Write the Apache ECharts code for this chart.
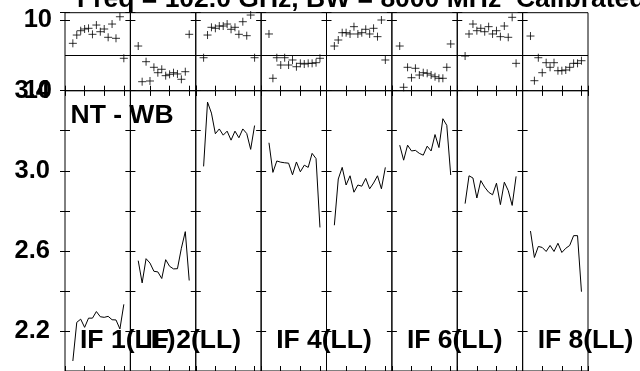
<!DOCTYPE html>
<html><head><meta charset="utf-8">
<script src="https://cdn.jsdelivr.net/npm/echarts/dist/echarts.min.js"></script>
<style>html,body{margin:0;padding:0;background:#fff;overflow:hidden}#c{width:640px;height:371px}</style>
</head><body><div id="c"></div>
<script>
// ---- data ----
const titleText = 'Freq = 102.0 GHz, BW = 8000 MHz  Calibrated';
const panelLabel = 'NT - WB';
const ifLabels = ['IF 1(LL)', 'IF 2(LL)', '', 'IF 4(LL)', '', 'IF 6(LL)', '', 'IF 8(LL)'];
const channels = [2, 3, 4, 5, 6, 7, 8, 9, 10, 11, 12, 13, 14, 15];
const mainTickValues = [2.2, 2.6, 3.0, 3.4];
const mainTickLabels = ['2.2', '2.6', '3.0', '3.4'];
const topTickValues = [0, 10];
const topTickLabels = ['10', '10'];
const topRefLine = 5;

const top1 = [6.68, 7.85, 8.46, 8.70, 8.80, 7.95, 9.26, 8.32, 8.70, 7.53, 9.40, 7.39, 10.43, 4.57];
const top2 = [6.30, 1.27, 4.09, 1.37, 3.30, 2.54, 3.02, 2.12, 2.31, 2.54, 2.36, 1.61, 2.68, 7.95];
const top3 = [4.65, 7.85, 8.94, 8.80, 9.12, 9.12, 9.40, 8.66, 8.94, 7.95, 9.73, 7.76, 10.67, 4.65];
const top4 = [8.00, 1.75, 4.65, 3.62, 4.65, 3.62, 4.33, 3.38, 3.86, 3.76, 3.86, 3.86, 3.95, 4.57];
const top5 = [6.30, 7.15, 8.18, 8.18, 8.00, 9.03, 8.00, 8.18, 8.66, 8.00, 8.80, 7.62, 9.97, 4.33];
const top6 = [6.30, 0.48, 3.30, 1.83, 3.16, 2.21, 2.54, 2.45, 2.21, 1.97, 1.75, 1.75, 3.30, 6.59];
const top7 = [4.89, 8.00, 9.40, 8.46, 8.80, 8.32, 9.03, 8.00, 8.46, 7.62, 9.12, 7.53, 10.35, 3.86];
const top8 = [7.71, 1.41, 4.65, 2.54, 3.95, 3.30, 3.95, 2.82, 2.82, 2.92, 3.30, 3.86, 3.86, 4.23];

const main1 = [2.050, 2.243, 2.259, 2.218, 2.264, 2.264, 2.297, 2.271, 2.268, 2.273, 2.256, 2.255, 2.210, 2.333];
const main2 = [2.551, 2.440, 2.561, 2.539, 2.498, 2.495, 2.462, 2.556, 2.523, 2.510, 2.511, 2.613, 2.696, 2.452];
const main3 = [3.022, 3.343, 3.288, 3.185, 3.209, 3.178, 3.198, 3.153, 3.198, 3.165, 3.209, 3.186, 3.107, 3.226];
const main4 = [3.140, 2.992, 3.049, 3.043, 3.040, 3.038, 2.980, 3.044, 2.995, 3.028, 3.017, 3.087, 3.061, 2.717];
const main5 = [2.728, 2.959, 3.017, 2.929, 2.975, 2.893, 2.929, 2.923, 2.962, 2.910, 2.939, 2.975, 2.910, 3.017];
const main6 = [3.128, 3.053, 3.128, 3.099, 3.102, 3.087, 3.078, 3.123, 3.099, 3.181, 3.116, 3.260, 3.227, 2.979];
const main7 = [2.836, 2.975, 2.964, 2.864, 2.951, 2.918, 2.893, 2.880, 2.938, 2.831, 2.943, 2.901, 2.827, 2.972];
const main8 = [2.699, 2.567, 2.622, 2.617, 2.597, 2.627, 2.597, 2.638, 2.592, 2.613, 2.627, 2.676, 2.676, 2.396];

const topSeries = [top1, top2, top3, top4, top5, top6, top7, top8];
const mainSeries = [main1, main2, main3, main4, main5, main6, main7, main8];

// ---- layout ----
const FONT = '"Liberation Sans", Arial, Helvetica, sans-serif';
const FS = 26.5;
const X0 = 65, COLW = 65.375;
const TOP_T = 12.7, TOP_H = 78;
const MAIN_T = 90.7, MAIN_H = 283.8;
const X_MIN = 0, X_MAX = 50 / 3, X_INT = 5;

const grids = [], xAxes = [], yAxes = [], series = [];
const tick = { show: true, inside: true, length: 5, lineStyle: { color: '#000', width: 1 } };

function addPanel(col, isTop) {
  const g = grids.length;
  grids.push({
    left: X0 + col * COLW, width: COLW,
    top: isTop ? TOP_T : MAIN_T, height: isTop ? TOP_H : MAIN_H,
    show: true, borderColor: '#000', borderWidth: 1, backgroundColor: 'transparent',
    containLabel: false
  });
  ['bottom', 'top'].forEach(pos => xAxes.push({
    type: 'value', gridIndex: g, position: pos, min: X_MIN, max: X_MAX, interval: X_INT,
    axisLine: { show: false }, axisTick: tick, axisLabel: { show: false }, splitLine: { show: false }
  }));
  ['left', 'right'].forEach(pos => {
    const showLab = (col === 0 && pos === 'left');
    const ax = {
      type: 'value', gridIndex: g, position: pos,
      axisLine: { show: false }, axisTick: tick, splitLine: { show: false },
      axisLabel: {
        show: showLab, margin: isTop ? 13 : 15, padding: [5, 0, 0, 0],
        color: '#000', fontSize: 25.5, fontWeight: 'bold', fontFamily: FONT
      }
    };
    if (isTop) {
      ax.min = 0; ax.max = 11; ax.interval = 10;
      ax.axisLabel.formatter = v => { const k = topTickValues.indexOf(v); return k >= 0 ? topTickLabels[k] : ''; };
    } else {
      ax.min = 2.0; ax.max = 3.4; ax.interval = 0.2;
      ax.axisLabel.formatter = v => { const k = mainTickValues.findIndex(t => Math.abs(t - v) < 1e-6); return k >= 0 ? mainTickLabels[k] : ''; };
    }
    yAxes.push(ax);
  });
  return g;
}

for (let c = 0; c < 8; c++) {
  const g = addPanel(c, true);
  series.push({
    type: 'scatter', xAxisIndex: 2 * g, yAxisIndex: 2 * g,
    data: channels.map((ch, k) => [ch, topSeries[c][k]]),
    symbol: 'path://M0,4L8,4M4,0L4,8', symbolSize: 8,
    itemStyle: { color: 'transparent', borderColor: '#000', borderWidth: 1 },
    markLine: {
      silent: true, symbol: ['none', 'none'], label: { show: false },
      lineStyle: { color: '#000', type: 'solid', width: 1 },
      data: [{ yAxis: topRefLine }]
    }
  });
}
for (let c = 0; c < 8; c++) {
  const g = addPanel(c, false);
  series.push({
    type: 'line', xAxisIndex: 2 * g, yAxisIndex: 2 * g,
    data: channels.map((ch, k) => [ch, mainSeries[c][k]]),
    showSymbol: false, symbol: 'none',
    lineStyle: { color: '#000', width: 1 }
  });
}

const graphic = [
  { type: 'text', style: { text: titleText, x: 77, y: -0.8, align: 'left', verticalAlign: 'middle', font: 'bold ' + FS + 'px ' + FONT, fill: '#000' } },
  { type: 'text', style: { text: panelLabel, x: 70.5, y: 115.2, align: 'left', verticalAlign: 'middle', font: 'bold ' + FS + 'px ' + FONT, fill: '#000' } }
];
ifLabels.forEach((t, c) => {
  if (!t) return;
  graphic.push({ type: 'text', style: { text: t, x: X0 + c * COLW + 15, y: 340.3, align: 'left', verticalAlign: 'middle', font: 'bold ' + FS + 'px ' + FONT, fill: '#000' } });
});

const chart = echarts.init(document.getElementById('c'), null, { renderer: 'canvas' });
chart.setOption({
  animation: false,
  backgroundColor: '#fff',
  grid: grids, xAxis: xAxes, yAxis: yAxes, series: series,
  graphic: graphic
});
</script></body></html>
